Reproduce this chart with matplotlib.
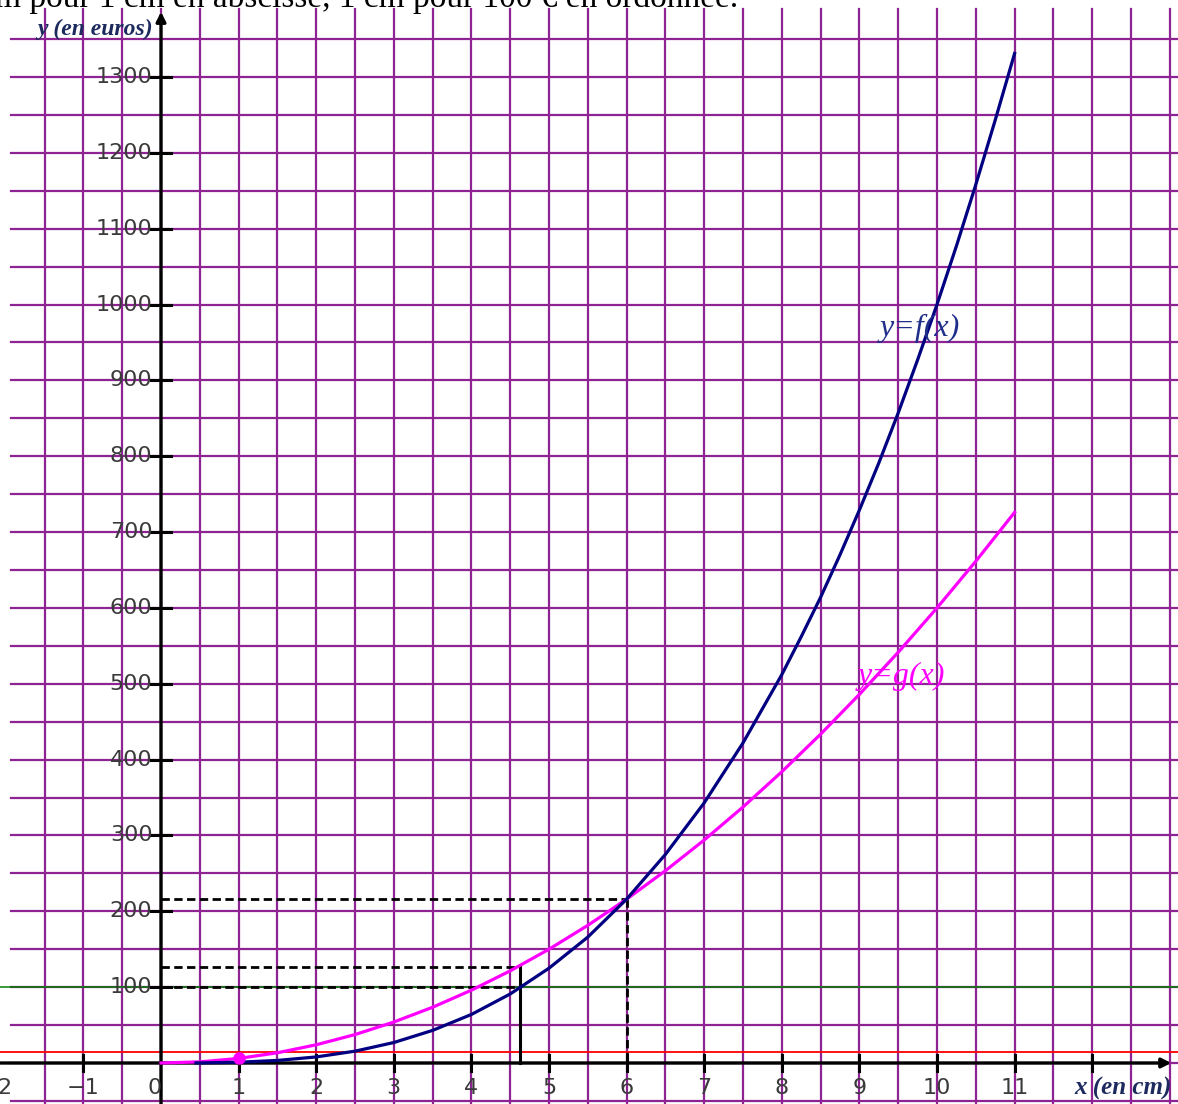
import matplotlib
matplotlib.use("Agg")
import matplotlib.pyplot as plt
import numpy as np

# ---- data ----
x_f = [0.45, 0.5, 1, 1.5, 2, 2.5, 3, 3.5, 4, 4.5, 5, 5.5, 6, 6.5, 7, 7.5, 8, 8.25, 8.5, 8.75, 9, 9.25,
       9.5, 9.75, 10, 10.25, 10.5, 10.75, 11]
y_f = [0.1, 0.1, 1, 3.4, 8, 15.6, 27, 43, 64, 91, 125, 166, 216, 275, 343, 422, 512, 562, 614, 670, 729, 791,
       857, 927, 1000, 1077, 1158, 1243, 1331]
x_g = [0, 0.5, 1, 1.5, 2, 2.5, 3, 3.5, 4, 4.5, 5, 5.5, 6, 6.5, 7, 7.5, 8, 8.5, 9, 9.5, 10, 10.5, 11]
y_g = [0, 1.5, 6, 13.5, 24, 37.5, 54, 73.5, 96, 121.5, 150, 181.5, 216, 253.5, 294, 337.5, 384, 433.5, 486, 541.5, 600, 661.5, 726]
x_ticks = [-1, 1, 2, 3, 4, 5, 6, 7, 8, 9, 10, 11, 12]
x_tick_labels = ["\u22121", "1", "2", "3", "4", "5", "6", "7", "8", "9", "10", "11", ""]
y_ticks = [100, 200, 300, 400, 500, 600, 700, 800, 900, 1000, 1100, 1200, 1300]
y_tick_labels = [str(v) for v in y_ticks]
x_cross = 4.63        # f(x) = 100
y_cross_g = 127       # g(4.63)
x_inter = 6           # f = g
y_inter = 216
y_red = 15
y_green = 100
dot = (1, 6)

W, H = 1178, 1104
fig = plt.figure(figsize=(W / 100, H / 100), dpi=100)
ax = fig.add_axes([0, 0, 1, 1])
ax.set_xlim(-2.075, 13.106)
ax.set_ylim(-54.05, 1401.5)
ax.axis("off")

grid_c = "#8e2494"
# grid
for gx in np.arange(-1.5, 13.01, 0.5):
    ax.plot([gx, gx], [-60, 1390], color=grid_c, lw=1.6, zorder=1)
for gy in np.arange(-50, 1351, 50):
    ax.plot([-1.93, 13.2], [gy, gy], color=grid_c, lw=1.6, zorder=1)

# reference lines
ax.axhline(y_red, color="red", lw=1.3, zorder=2)
ax.axhline(y_green, color="#008000", lw=1.1, zorder=2.5)

# axes with arrows
ax.annotate("", xy=(13.02, 0), xytext=(-2.2, 0),
            arrowprops=dict(arrowstyle="-|>", lw=2.4, color="black", mutation_scale=14, shrinkA=0, shrinkB=0), zorder=3)
ax.annotate("", xy=(0, 1386), xytext=(0, -60),
            arrowprops=dict(arrowstyle="-|>", lw=2.4, color="black", mutation_scale=14, shrinkA=0, shrinkB=0), zorder=3)

tk = dict(fontsize=16, color="#3a3a3a", family="DejaVu Sans", zorder=4)
# ticks
for tx, tl in zip(x_ticks, x_tick_labels):
    ax.plot([tx, tx], [-11, 11], color="black", lw=2.2, zorder=3)
    if tl:
        ax.text(tx, -33, tl, ha="center", va="center", **tk)
ax.text(-0.08, -33, "0", ha="center", va="center", **tk)
ax.text(-2.02, -33, "2", ha="center", va="center", **tk)
for ty, tl in zip(y_ticks, y_tick_labels):
    ax.plot([-0.13, 0.13], [ty, ty], color="black", lw=2.2, zorder=3)
    ax.text(-0.11, ty, tl, ha="right", va="center", **tk)

# dashed helper lines
dkw = dict(color="black", lw=2.0, ls=(0, (3, 1.6)), zorder=3)
ax.plot([0, x_inter], [y_inter, y_inter], **dkw)
ax.plot([x_inter, x_inter], [y_inter, 0], **dkw)
ax.plot([0, x_cross], [y_cross_g, y_cross_g], **dkw)
ax.plot([0, x_cross], [y_green, y_green], **dkw)
ax.plot([x_cross, x_cross], [0, y_cross_g], color="black", lw=2.2, zorder=3)

# curves
ax.plot(x_g, y_g, color="#ff00ff", lw=2.3, zorder=5, solid_joinstyle="round")
ax.plot(x_f, y_f, color="#000080", lw=2.3, zorder=6, solid_joinstyle="round")
ax.plot([dot[0]], [dot[1]], "o", color="#ff00ff", ms=8, zorder=7)

# labels
ax.text(9.26, 969, "y=f(x)", color="#1f2f8a", fontsize=23, style="italic",
        family="Liberation Serif", ha="left", va="center", zorder=8)
ax.text(8.98, 510, "y=g(x)", color="#ff00ff", fontsize=23, style="italic",
        family="Liberation Serif", ha="left", va="center", zorder=8)
ax.text(-0.1, 1363, "y (en euros)", color="#1c2a5e", fontsize=17, style="italic",
        weight="bold", family="Liberation Serif", ha="right", va="center", zorder=8)
ax.text(11.77, -33, "x (en cm)", color="#1c2a5e", fontsize=18, style="italic",
        weight="bold", family="Liberation Serif", ha="left", va="center", zorder=8)

fig.text(-0.004, 1 - 7 / H, "m pour 1 cm en abscisse, 1 cm pour 100 \u20ac en ordonn\u00e9e.",
         fontsize=24, family="Liberation Serif", color="black", ha="left", va="baseline")

fig.savefig("out.png", dpi=100)
